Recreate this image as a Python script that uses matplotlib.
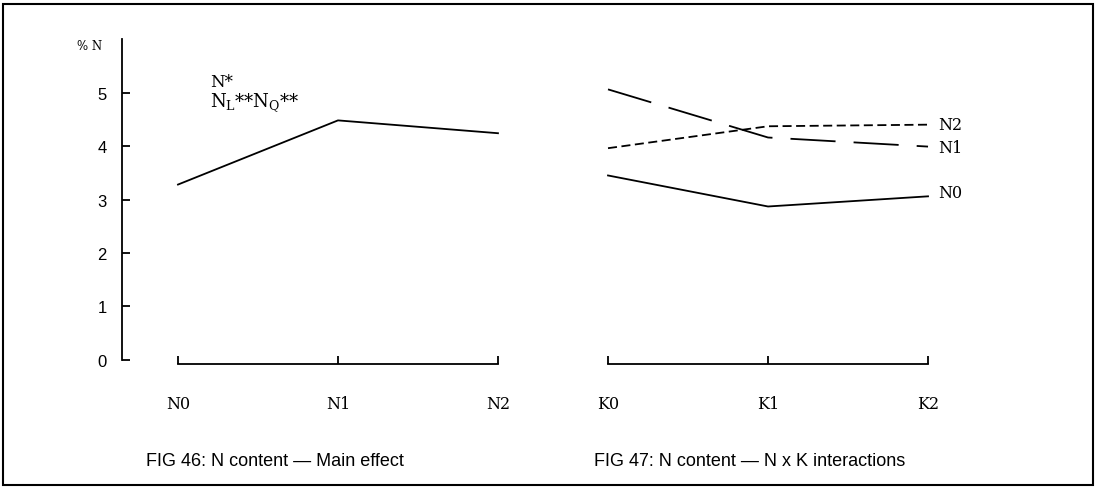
import matplotlib
matplotlib.use("Agg")
import matplotlib.pyplot as plt
from matplotlib.patches import Rectangle

# values (% N)
n_levels = ["N0", "N1", "N2"]
k_levels = ["K0", "K1", "K2"]
main_effect = [3.28, 4.48, 4.24]
nk_n0 = [3.45, 2.87, 3.06]
nk_n1 = [5.06, 4.16, 3.99]
nk_n2 = [3.96, 4.37, 4.40]
y_ticks = [0, 1, 2, 3, 4, 5]

plt.rcParams['mathtext.fontset'] = 'dejavuserif'
serif = 'DejaVu Serif'
sans = 'Liberation Sans'
lw = 1.3

fig = plt.figure(figsize=(10.97, 4.89), dpi=100)

axL = fig.add_axes([0.1112, 0.229, 0.3628, 0.689])
axR = fig.add_axes([0.5105, 0.229, 0.4011, 0.689])

for ax in (axL, axR):
    ax.set_ylim(-0.3, 6.0)
    ax.patch.set_visible(False)
    for s in ("top", "right"):
        ax.spines[s].set_visible(False)
    ax.spines["bottom"].set_position(("data", -0.08))
    ax.spines["bottom"].set_bounds(0, 2)
    ax.spines["bottom"].set_linewidth(lw)
    ax.tick_params(axis="x", direction="in", length=6, width=lw, pad=22,
                   labelsize=11.5)

axL.set_xlim(-0.35, 2.1375)
axR.set_xlim(-0.3, 2.45)

# left panel: main effect
axL.spines["left"].set_bounds(0, 6)
axL.spines["left"].set_linewidth(lw)
axL.set_yticks(y_ticks)
axL.tick_params(axis="y", direction="in", length=6, width=lw, pad=11,
                labelsize=12)
for t in axL.get_yticklabels():
    t.set_family(sans)
axL.set_xticks(range(3))
axL.set_xticklabels(n_levels, family=serif)
axL.plot(range(3), main_effect, color="black", lw=lw)
axL.text(0.2, 5.05, "N*", family=serif, fontsize=12, va="bottom")
axL.text(0.2, 4.62, r"N$_{\rm L}$**N$_{\rm Q}$**", family=serif,
         fontsize=13, va="bottom")

# right panel: N x K interactions
axR.spines["left"].set_visible(False)
axR.set_yticks([])
axR.set_xticks(range(3))
axR.set_xticklabels(k_levels, family=serif)
axR.plot(range(3), nk_n0, color="black", lw=lw)
axR.plot(range(3), nk_n1, color="black", lw=lw, linestyle=(0, (25, 10)))
axR.plot(range(3), nk_n2, color="black", lw=lw, linestyle=(0, (5, 2.5)))
for name, vals, dy in (("N0", nk_n0, 3), ("N1", nk_n1, -1), ("N2", nk_n2, 0)):
    axR.annotate(name, (2, vals[-1]), xytext=(7, dy), textcoords="offset points",
                 family=serif, fontsize=11.5, va="center")

fig.text(77 / 1097, 1 - 47 / 489, "% N", family=serif, fontsize=8.5,
         va="center")

fig.text(275 / 1097, 1 - 462 / 489, "FIG 46: N content — Main effect",
         family=sans, fontsize=13, ha="center", va="center")
fig.text(750 / 1097, 1 - 462 / 489, "FIG 47: N content — N x K interactions",
         family=sans, fontsize=13, ha="center", va="center")

fig.patches.append(Rectangle((3 / 1097, 3 / 489), 1090 / 1097, 481 / 489,
                             transform=fig.transFigure, fill=False,
                             edgecolor="black", lw=1.5))

fig.savefig("out.png", dpi=100)
